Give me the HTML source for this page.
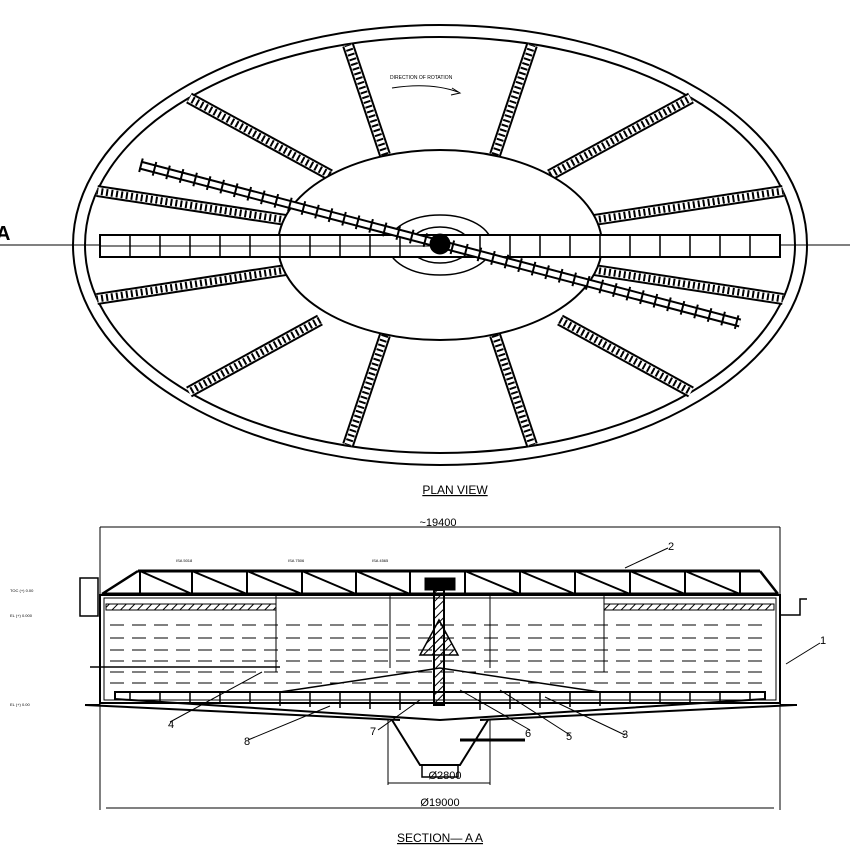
<!DOCTYPE html>
<html><head><style>html,body{margin:0;padding:0;background:#fff}svg{display:block}</style></head>
<body>
<svg width="850" height="850" viewBox="0 0 850 850" xmlns="http://www.w3.org/2000/svg" font-family="Liberation Sans, sans-serif">
<defs>
<pattern id="h" width="6" height="6" patternUnits="userSpaceOnUse" patternTransform="rotate(45)"><line x1="0" y1="0" x2="0" y2="6" stroke="#000" stroke-width="2"/></pattern>
</defs>
<g fill="none" stroke="#000">
<ellipse cx="440" cy="245" rx="367" ry="220" stroke-width="2"/>
<ellipse cx="440" cy="245" rx="355" ry="208" stroke-width="2"/>
<line x1="0" y1="245" x2="850" y2="245" stroke-width="1"/>
<g stroke-width="12">
<line x1="594" y1="220" x2="783" y2="191" />
<line x1="550" y1="175" x2="691" y2="98"/><line x1="495" y1="155" x2="532" y2="45"/>
<line x1="385" y1="155" x2="348" y2="45"/><line x1="330" y1="175" x2="189" y2="98"/>
<line x1="286" y1="220" x2="97" y2="191"/>
<line x1="286" y1="270" x2="97" y2="299"/><line x1="320" y1="320" x2="189" y2="392"/>
<line x1="385" y1="335" x2="348" y2="445"/><line x1="495" y1="335" x2="532" y2="445"/>
<line x1="560" y1="320" x2="691" y2="392"/><line x1="594" y1="270" x2="783" y2="299"/>
</g>
<g stroke="#fff" stroke-width="8">
<line x1="594" y1="220" x2="783" y2="191" /><line x1="550" y1="175" x2="691" y2="98"/><line x1="495" y1="155" x2="532" y2="45"/>
<line x1="385" y1="155" x2="348" y2="45"/><line x1="330" y1="175" x2="189" y2="98"/>
<line x1="286" y1="220" x2="97" y2="191"/><line x1="286" y1="270" x2="97" y2="299"/><line x1="320" y1="320" x2="189" y2="392"/>
<line x1="385" y1="335" x2="348" y2="445"/><line x1="495" y1="335" x2="532" y2="445"/>
<line x1="560" y1="320" x2="691" y2="392"/><line x1="594" y1="270" x2="783" y2="299"/>
</g>
<g stroke-width="7" stroke-dasharray="2 3">
<line x1="594" y1="220" x2="783" y2="191" /><line x1="550" y1="175" x2="691" y2="98"/><line x1="495" y1="155" x2="532" y2="45"/>
<line x1="385" y1="155" x2="348" y2="45"/><line x1="330" y1="175" x2="189" y2="98"/>
<line x1="286" y1="220" x2="97" y2="191"/><line x1="286" y1="270" x2="97" y2="299"/><line x1="320" y1="320" x2="189" y2="392"/>
<line x1="385" y1="335" x2="348" y2="445"/><line x1="495" y1="335" x2="532" y2="445"/>
<line x1="560" y1="320" x2="691" y2="392"/><line x1="594" y1="270" x2="783" y2="299"/>
</g>
<ellipse cx="440" cy="245" rx="162" ry="95" fill="#fff" stroke-width="2"/>
<ellipse cx="440" cy="245" rx="52" ry="30" stroke-width="1.5"/>
<ellipse cx="440" cy="245" rx="30" ry="18" stroke-width="1.5"/>
<rect x="100" y="235" width="680" height="22" fill="#fff" stroke-width="2"/>
<line x1="100" y1="246" x2="440" y2="246" stroke-width="1"/>
<g stroke-width="1.5">
<path d="M130 235v22M160 235v22M190 235v22M220 235v22M250 235v22M280 235v22M310 235v22M340 235v22M370 235v22M400 235v22M480 235v22M510 235v22M540 235v22M570 235v22M600 235v22M630 235v22M660 235v22M690 235v22M720 235v22M750 235v22"/>
</g>
<line x1="140" y1="165" x2="740" y2="323" stroke-width="9"/>
<line x1="140" y1="165" x2="740" y2="323" stroke="#fff" stroke-width="5"/>
<line x1="140" y1="165" x2="740" y2="323" stroke-width="14" stroke-dasharray="2 12"/>
<circle cx="440" cy="244" r="10" fill="#000"/>
<path d="M392 88 Q430 82 458 92" stroke-width="1"/>
<path d="M452 88 L460 93 L451 95" stroke-width="1"/>
</g>
<text x="390" y="79" font-size="5">DIRECTION OF ROTATION</text>
<text x="-4" y="240" font-size="20" font-weight="bold">A</text>
<text x="455" y="494" font-size="12" text-anchor="middle" text-decoration="underline">PLAN VIEW</text>

<g fill="none" stroke="#000">
<line x1="100" y1="527" x2="780" y2="527" stroke-width="1"/>
<line x1="100" y1="527" x2="100" y2="810" stroke-width="1"/>
<line x1="780" y1="527" x2="780" y2="810" stroke-width="1"/>
<line x1="106" y1="808" x2="774" y2="808" stroke-width="1"/>
<rect x="100" y="595" width="680" height="108" stroke-width="2"/>
<rect x="104" y="598" width="672" height="102" stroke-width="1"/>
<g stroke-dasharray="14 8" stroke-width="1">
<line x1="110" y1="625" x2="770" y2="625"/><line x1="110" y1="638" x2="770" y2="638"/>
<line x1="110" y1="650" x2="770" y2="650"/><line x1="110" y1="661" x2="770" y2="661"/>
<line x1="110" y1="672" x2="770" y2="672"/><line x1="110" y1="683" x2="770" y2="683"/>
</g>
<rect x="106" y="604" width="170" height="6" fill="url(#h)" stroke-width="1"/>
<rect x="604" y="604" width="170" height="6" fill="url(#h)" stroke-width="1"/>
<line x1="276" y1="596" x2="276" y2="672"/><line x1="604" y1="596" x2="604" y2="672"/>
<line x1="390" y1="596" x2="390" y2="668"/><line x1="490" y1="596" x2="490" y2="668"/>
<line x1="138" y1="571" x2="760" y2="571" stroke-width="3"/>
<line x1="102" y1="594" x2="778" y2="594" stroke-width="3"/>
<path d="M102 594L138 571M760 571L778 594" stroke-width="2.5"/>
<path d="M140 571v23M192 571v23M247 571v23M302 571v23M356 571v23M410 571v23M465 571v23M520 571v23M575 571v23M630 571v23M685 571v23M740 571v23" stroke-width="2"/>
<path d="M140 571L192 594M192 571L247 594M247 571L302 594M302 571L356 594M356 571L410 594M465 571L520 594M520 571L575 594M575 571L630 594M630 571L685 594M685 571L740 594" stroke-width="2"/>
<rect x="425" y="578" width="30" height="12" fill="#000"/>
<rect x="434" y="590" width="10" height="115" stroke-width="2" fill="url(#h)"/>
<path d="M420 655L439 620L458 655Z" fill="url(#h)" stroke-width="1.5"/>
<path d="M115 692L765 692L765 699L440 720L115 699Z" stroke-width="2"/>
<path d="M130 692v7M160 692v9M190 692v10M220 692v11M250 692v12M280 692v14M310 692v15M340 692v16M370 692v17M400 692v18M480 692v18M510 692v17M540 692v16M570 692v15M600 692v14M630 692v12M660 692v11M690 692v10M720 692v9M750 692v7" stroke-width="1.5"/>
<path d="M280 692L440 668L600 692" stroke-width="1.5"/>
<path d="M85 705L400 720M795 705L480 720" stroke-width="2"/>
<line x1="85" y1="705" x2="100" y2="705" stroke-width="2"/><line x1="780" y1="705" x2="797" y2="705" stroke-width="2"/>
<path d="M392 720L420 765H460L488 720" stroke-width="2"/>
<rect x="422" y="765" width="36" height="12" stroke-width="1.5"/>
<line x1="460" y1="740" x2="525" y2="740" stroke-width="3"/>
<path d="M388 720V785M490 720V785M388 783H490" stroke-width="1"/>
<rect x="80" y="578" width="18" height="38" stroke-width="1.5"/>
<path d="M780 615h20v-16h7" stroke-width="1.5"/>
<path d="M90 667h190" stroke-width="1.5"/>
<path d="M170 722L262 672M248 740L330 706M668 548L625 568M820 643L786 664M625 735L545 697M570 735L500 690M530 730L460 690M378 730L420 700" stroke-width="1"/>
</g>
<g font-size="11">
<text x="438" y="526" text-anchor="middle">~19400</text>
<text x="445" y="779" text-anchor="middle">Ø2800</text>
<text x="440" y="806" text-anchor="middle">Ø19000</text>
<text x="668" y="550">2</text><text x="820" y="644">1</text>
<text x="168" y="728">4</text><text x="244" y="745">8</text>
<text x="622" y="738">3</text><text x="566" y="740">5</text><text x="525" y="737">6</text><text x="370" y="735">7</text>
</g>
<g font-size="4">
<text x="176" y="562">ISA 5018</text><text x="288" y="562">ISA 7506</text><text x="372" y="562">ISA 4565</text>
<text x="10" y="592">TOC (+) 0.00</text><text x="10" y="617">EL (+) 0.000</text><text x="10" y="706">EL (+) 0.00</text>
</g>
<text x="440" y="842" font-size="12" text-anchor="middle" text-decoration="underline">SECTION— A A</text>
</svg>
</body></html>
